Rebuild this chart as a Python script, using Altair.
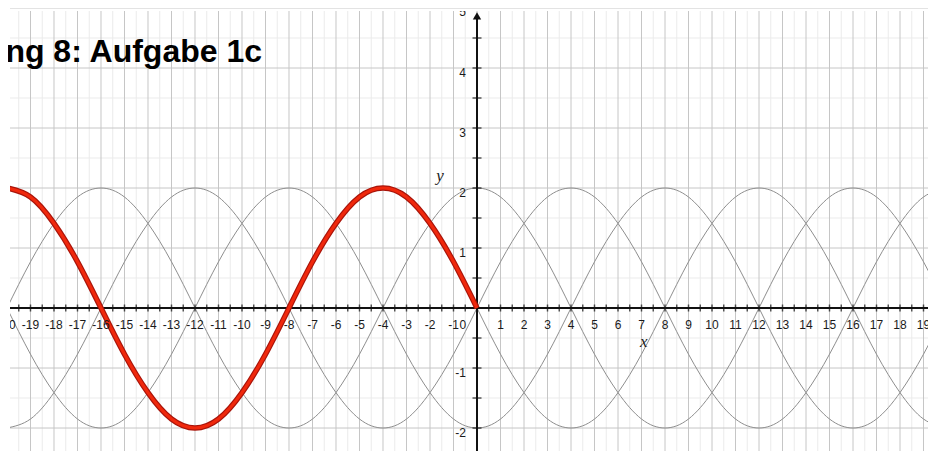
import altair as alt
import pandas as pd

# ---- data ----
x_vals = list(range(-20, 21))
cos_up = [0, 0.77, 1.41, 1.85, 2, 1.85, 1.41, 0.77, 0, -0.77, -1.41, -1.85, -2, -1.85, -1.41, -0.77,
          0, 0.77, 1.41, 1.85, 2, 1.85, 1.41, 0.77, 0, -0.77, -1.41, -1.85, -2, -1.85, -1.41, -0.77,
          0, 0.77, 1.41, 1.85, 2, 1.85, 1.41, 0.77, 0]
cos_down = [0, -0.77, -1.41, -1.85, -2, -1.85, -1.41, -0.77, 0, 0.77, 1.41, 1.85, 2, 1.85, 1.41, 0.77,
            0, -0.77, -1.41, -1.85, -2, -1.85, -1.41, -0.77, 0, 0.77, 1.41, 1.85, 2, 1.85, 1.41, 0.77,
            0, -0.77, -1.41, -1.85, -2, -1.85, -1.41, -0.77, 0]
sin_up = [-2, -1.85, -1.41, -0.77, 0, 0.77, 1.41, 1.85, 2, 1.85, 1.41, 0.77, 0, -0.77, -1.41, -1.85,
          -2, -1.85, -1.41, -0.77, 0, 0.77, 1.41, 1.85, 2, 1.85, 1.41, 0.77, 0, -0.77, -1.41, -1.85,
          -2, -1.85, -1.41, -0.77, 0, 0.77, 1.41, 1.85, 2]
sin_down = [2, 1.85, 1.41, 0.77, 0, -0.77, -1.41, -1.85, -2, -1.85, -1.41, -0.77, 0, 0.77, 1.41, 1.85,
            2, 1.85, 1.41, 0.77, 0, -0.77, -1.41, -1.85, -2, -1.85, -1.41, -0.77, 0, 0.77, 1.41, 1.85,
            2, 1.85, 1.41, 0.77, 0, -0.77, -1.41, -1.85, -2]
red_x = list(range(-20, 1))
red_y = [2, 1.85, 1.41, 0.77, 0, -0.77, -1.41, -1.85, -2, -1.85, -1.41, -0.77,
         0, 0.77, 1.41, 1.85, 2, 1.85, 1.41, 0.77, 0]

x_tick_labels = [v for v in range(-20, 20) if v != 0]
y_tick_labels = [-2, -1, 1, 2, 3, 4, 5]
title_text = "ng 8: Aufgabe 1c"

# ---- tables ----
gray = pd.DataFrame({
    "x": x_vals * 4,
    "y": cos_up + cos_down + sin_up + sin_down,
    "curve": ["a"] * 41 + ["b"] * 41 + ["c"] * 41 + ["d"] * 41,
})
red = pd.DataFrame({"x": red_x, "y": red_y})

minor_x = pd.DataFrame({"v": [i / 2 for i in range(-41, 41) if i % 2 != 0]})
major_x = pd.DataFrame({"v": list(range(-20, 21))})
minor_y = pd.DataFrame({"v": [i / 2 for i in range(-7, 11) if i % 2 != 0]})
major_y = pd.DataFrame({"v": list(range(-3, 6))})
xticks = pd.DataFrame({"v": [i / 2 for i in range(-41, 41) if i != 0], "z": 0})
yticks = pd.DataFrame({"v": [i / 2 for i in range(-5, 10) if i != 0], "z": 0})
xlab = pd.DataFrame({"v": x_tick_labels + [-0.6], "t": [str(v) for v in x_tick_labels] + ["0"], "z": 0})
ylab = pd.DataFrame({"v": y_tick_labels, "t": [str(v) for v in y_tick_labels], "z": 0})

xs = alt.Scale(domain=[-19.872, 19.191], zero=False, nice=False)
ys = alt.Scale(domain=[-2.383, 4.95], zero=False, nice=False)


def X(f):
    return alt.X(f, type="quantitative", scale=xs, axis=None)


def Y(f):
    return alt.Y(f, type="quantitative", scale=ys, axis=None)


grid_minor_v = alt.Chart(minor_x).mark_rule(color="#ebebeb", strokeWidth=1).encode(x=X("v"))
grid_minor_h = alt.Chart(minor_y).mark_rule(color="#ebebeb", strokeWidth=1).encode(y=Y("v"))
grid_major_v = alt.Chart(major_x).mark_rule(color="#c6c6c6", strokeWidth=1).encode(x=X("v"))
grid_major_h = alt.Chart(major_y).mark_rule(color="#c6c6c6", strokeWidth=1).encode(y=Y("v"))

gray_lines = alt.Chart(gray).mark_line(color="#8e8e8e", strokeWidth=1, interpolate="natural", clip=True).encode(
    x=X("x"), y=Y("y"), detail="curve:N")

x_axis = alt.Chart(pd.DataFrame({"z": [0]})).mark_rule(color="#111111", strokeWidth=2).encode(y=Y("z"))
y_axis = alt.Chart(pd.DataFrame({"z": [0], "a": [-2.6], "b": [4.85]})).mark_rule(
    color="#111111", strokeWidth=2, clip=True).encode(x=X("z"), y=Y("a"), y2="b:Q")

x_ticks = alt.Chart(xticks).mark_tick(orient="vertical", size=7, thickness=1.5, color="#111111", clip=True).encode(
    x=X("v"), y=Y("z"))
y_ticks = alt.Chart(yticks).mark_tick(orient="horizontal", size=9, thickness=1.5, color="#111111", clip=True).encode(
    x=X("z"), y=Y("v"))

red_under = alt.Chart(red).mark_line(color="#a8140a", strokeWidth=5.5, interpolate="natural", clip=True).encode(
    x=X("x"), y=Y("y"))
red_over = alt.Chart(red).mark_line(color="#f0280c", strokeWidth=3.2, interpolate="natural", clip=True).encode(
    x=X("x"), y=Y("y"))

arrow = alt.Chart(pd.DataFrame({"z": [0], "y": [4.87]})).mark_point(
    shape="triangle-up", filled=True, size=70, color="#111111", opacity=1).encode(x=X("z"), y=Y("y"))

x_labels = alt.Chart(xlab).mark_text(font="Liberation Sans", fontSize=12, color="#1a1a1a", dy=21,
                                     baseline="alphabetic", align="center", clip=True).encode(
    x=X("v"), y=Y("z"), text="t:N")
y_labels = alt.Chart(ylab).mark_text(font="Liberation Sans", fontSize=12, color="#1a1a1a", dx=-11, dy=8.5,
                                     baseline="alphabetic", align="right", clip=True).encode(
    x=X("z"), y=Y("v"), text="t:N")

axis_names = alt.Chart(pd.DataFrame({"x": [-1.57, 7.1], "y": [2.2, -0.57], "t": ["y", "x"]})).mark_text(
    font="Liberation Serif", fontSize=17, fontStyle="italic", color="#1a1a1a", baseline="middle", align="center").encode(
    x=X("x"), y=Y("y"), text="t:N")

title = alt.Chart(pd.DataFrame({"t": [title_text]})).mark_text(
    font="Liberation Sans", fontSize=32, fontWeight="bold", color="#000000", align="right",
    baseline="alphabetic").encode(x=alt.value(252), y=alt.value(51), text="t:N")

chart = alt.layer(
    grid_minor_v, grid_minor_h, grid_major_v, grid_major_h, gray_lines,
    x_axis, y_axis, x_ticks, y_ticks, red_under, red_over, arrow,
    x_labels, y_labels, axis_names, title,
).properties(
    width=918, height=440,
    padding={"left": 2, "top": 3, "right": 0, "bottom": 0},
    autosize=alt.AutoSizeParams(type="none"),
    background="white",
).configure_view(strokeWidth=0)

chart.save("out.html", embed_options={"renderer": "svg", "actions": False})
